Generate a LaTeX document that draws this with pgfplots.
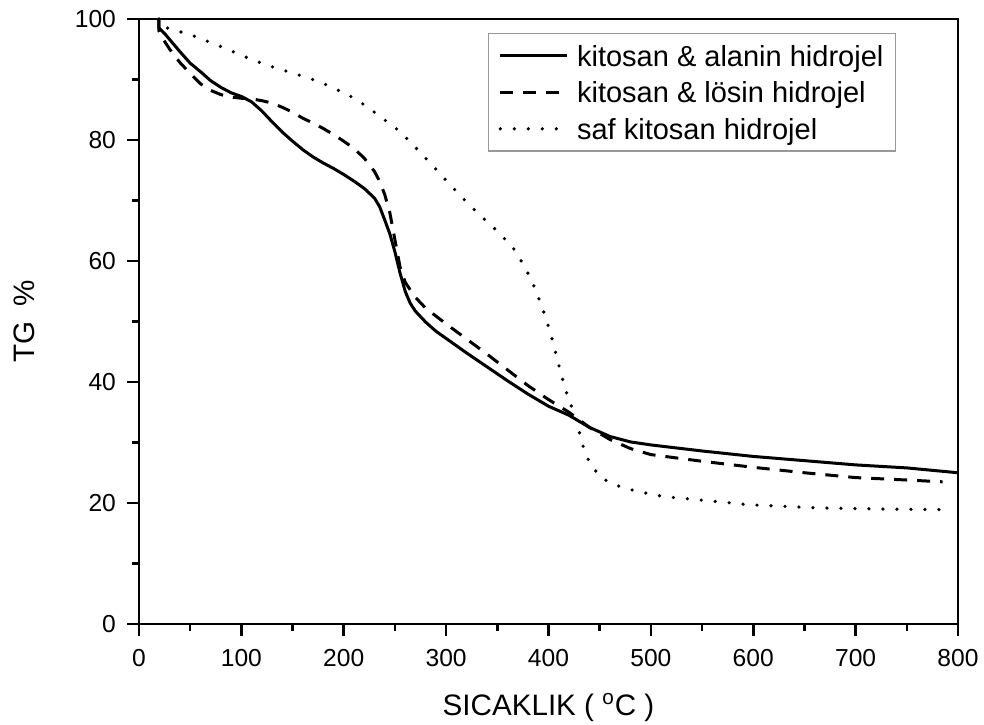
\documentclass[border=0pt]{standalone}
\usepackage{fontspec}
\setmainfont{Liberation Sans}
\usepackage{pgfplots}
\pgfplotsset{compat=1.18}
\begin{document}
\begin{tikzpicture}
\begin{axis}[
 scale only axis, width=409.5pt, height=302.5pt,
 xmin=0, xmax=800, ymin=0, ymax=100, clip=false,
 xtick={0,100,...,800}, ytick={0,20,...,100},
 minor x tick num=1, minor y tick num=1,
 xtick pos=bottom, ytick pos=left,
 tick align=outside,
 major tick length=6pt, minor tick length=3.5pt,
 axis line style={line width=1.4pt},
 tick style={black, line width=1.3pt},
 tick label style={font=\fontsize{12.3}{14}\selectfont},
 xticklabel style={yshift=-3pt},
 yticklabel style={xshift=-2pt},
 /pgf/number format/assume math mode=true,
 xlabel={SICAKLIK ( \textsuperscript{o}C )},
 ylabel={TG\enspace\%},
 label style={font=\fontsize{14.8}{17}\selectfont},
 xlabel style={at={(axis description cs:0.5,-0.1504)}, anchor=base, inner sep=0pt},
 ylabel style={at={(axis description cs:-0.127,0.5)}, anchor=base, inner sep=0pt},
 legend style={at={(rel axis cs:0.9243,0.9769)}, anchor=north east, draw=gray!80, line width=0.6pt,
   font=\fontsize{14.5}{17}\selectfont, inner xsep=5pt, inner ysep=2pt,
   nodes={inner sep=1pt, text height=13.25pt, text depth=3pt}, row sep=0pt,
   /tikz/every odd column/.append style={column sep=3pt}},
 legend cell align=left,
 legend image code/.code={\draw[#1] (0pt,0pt) -- (33.5pt,0pt);},
]
\addplot[black, line width=1.5pt, line join=round] coordinates {
(19.5,100)(19.5,98.5)(25,97.6)(30,96.6)(40,94.6)(50,92.7)(60,91.3)(70,89.8)(80,88.7)(90,87.8)
(100,87.2)(110,86.3)(120,84.8)(130,83)(140,81.3)(150,79.8)(160,78.4)(170,77.2)(180,76.2)(190,75.3)
(200,74.3)(210,73.2)(220,72)(230,70.4)(235,69)(240,66.8)(245,64.5)(250,61.5)(255,58)(260,55)
(265,53)(270,51.7)(280,49.9)(290,48.4)(300,47.2)(320,44.8)(340,42.5)(360,40.2)(380,38)(400,36)
(420,34.5)(440,32.5)(460,31)(480,30.1)(500,29.6)(550,28.6)(600,27.7)(650,27.0)(700,26.3)(750,25.8)(800,25.0)
};
\addplot[black, line width=1.5pt, line join=round, dash pattern=on 6.5pt off 5pt] coordinates {
(19.5,100)(19.5,98)(25,96.3)(30,95)(40,92.8)(50,91)(60,89.3)(70,88.2)(80,87.5)(90,87.1)
(100,86.9)(110,86.8)(120,86.5)(130,86.1)(140,85.4)(150,84.6)(160,83.6)(170,82.8)(180,81.9)(190,80.9)
(200,79.8)(210,78.6)(220,77)(230,74.8)(235,73.2)(240,71)(245,68)(250,63.5)(255,59)(260,56.5)
(265,55.2)(270,54)(280,52.2)(290,50.9)(300,49.6)(320,47.1)(340,44.6)(360,42)(380,39.4)(400,37.1)
(420,35)(440,32.5)(460,30.5)(480,29)(500,28)(550,26.9)(600,25.9)(650,25)(700,24.2)(750,23.8)(785,23.5)
};
\addplot[black, line width=1.8pt, line cap=round, dash pattern=on 0pt off 7pt] coordinates {
(19.5,100)(22,98.8)(30,98.4)(40,97.9)(50,97.4)(60,96.8)(70,96.1)(85,95.1)(100,94)(115,93)
(130,92.1)(155,90.8)(175,89.7)(190,88.6)(208,87.1)(222,85.6)(237,83.7)(255,81.4)(271,78.6)(291,75)
(299,73.5)(315,70.6)(331,67.9)(349,65.1)(365,62.3)(377,59)(385,56.2)(394,52.3)(402,48.1)(409,43.5)
(416,39)(426,34.3)(434,29.3)(439,27.1)(445,25.5)(453,24)(465,23)(478,22.3)(491,21.8)(504,21.3)
(517,21)(548,20.5)(597,19.7)(662,19.2)(727,19)(790,18.9)
};
\legend{kitosan \& alanin hidrojel, kitosan \& lösin hidrojel, saf kitosan hidrojel}
\draw[black, line width=1.4pt] (rel axis cs:0,0) rectangle (rel axis cs:1,1);
\end{axis}
\pgfresetboundingbox
\path ([shift={(-69.5pt,-50pt)}]current axis.south west) rectangle ([shift={(13pt,9.5pt)}]current axis.north east);
\end{tikzpicture}
\end{document}
